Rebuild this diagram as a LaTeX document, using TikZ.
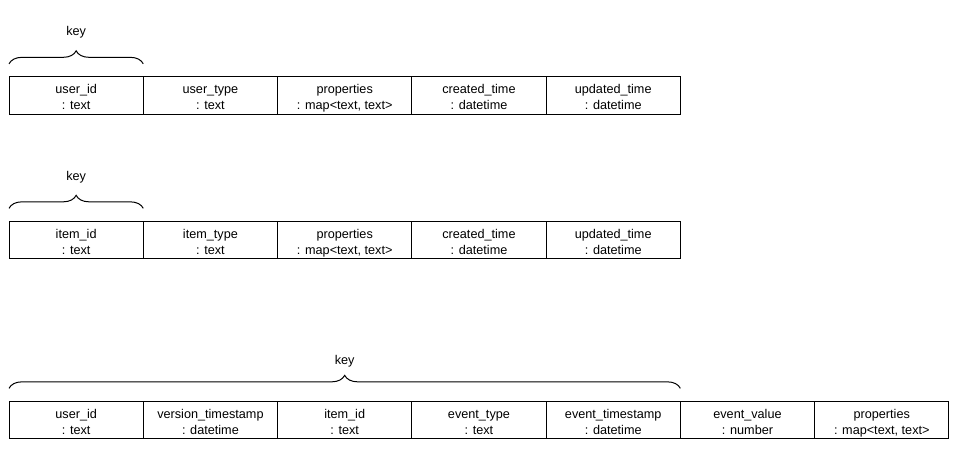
\documentclass[tikz,border=0pt]{standalone}
\usepackage{fontspec}
\setmainfont{Liberation Sans}
\usetikzlibrary{positioning,decorations.pathreplacing}
\tikzset{field/.style={draw=black,line width=0.75pt,outer sep=0pt,inner sep=0pt,
  minimum width=100.7pt,minimum height=28pt,align=center,
  font=\fontsize{9.5}{12}\selectfont},
  keybrace/.style={decorate,decoration={brace,amplitude=9.75pt},line width=0.75pt,draw=black},
  keylabel/.style={font=\fontsize{9.5}{12}\selectfont,inner sep=0pt,anchor=base}}
\newcommand{\fieldtext}[2]{\rule{0pt}{12pt}#1\\#2\rule[-2.7pt]{0pt}{2.7pt}}
\begin{document}
\begin{tikzpicture}[x=0.75pt,y=-0.75pt]
\useasboundingbox (0,0) rectangle (959,464);
% users
\node[field] (uid) at (76.15,95.5) {\fieldtext{user\_id}{: text}};
\node[field,right=0pt of uid] (utype) {\fieldtext{user\_type}{: text}};
\node[field,right=0pt of utype] (uprops) {\fieldtext{properties}{: map<text, text>}};
\node[field,right=0pt of uprops] (ucreated) {\fieldtext{created\_time}{: datetime}};
\node[field,right=0pt of ucreated] (uupdated) {\fieldtext{updated\_time}{: datetime}};
\coordinate (ukeyl) at ([yshift=9.75pt]uid.north west);
\coordinate (ukeyr) at ([yshift=9.75pt]uid.north east);
\draw[keybrace] (ukeyl) -- (ukeyr);
\node[keylabel] (ukey) at ([yshift=30.75pt]uid.north) {key};
% items
\node[field] (iid) at (76.15,240) {\fieldtext{item\_id}{: text}};
\node[field,right=0pt of iid] (itype) {\fieldtext{item\_type}{: text}};
\node[field,right=0pt of itype] (iprops) {\fieldtext{properties}{: map<text, text>}};
\node[field,right=0pt of iprops] (icreated) {\fieldtext{created\_time}{: datetime}};
\node[field,right=0pt of icreated] (iupdated) {\fieldtext{updated\_time}{: datetime}};
\coordinate (ikeyl) at ([yshift=9.75pt]iid.north west);
\coordinate (ikeyr) at ([yshift=9.75pt]iid.north east);
\draw[keybrace] (ikeyl) -- (ikeyr);
\node[keylabel] (ikey) at ([yshift=30.75pt]iid.north) {key};
% events
\node[field] (euid) at (76.15,420) {\fieldtext{user\_id}{: text}};
\node[field,right=0pt of euid] (eversion) {\fieldtext{version\_timestamp}{: datetime}};
\node[field,right=0pt of eversion] (eiid) {\fieldtext{item\_id}{: text}};
\node[field,right=0pt of eiid] (etype) {\fieldtext{event\_type}{: text}};
\node[field,right=0pt of etype] (etime) {\fieldtext{event\_timestamp}{: datetime}};
\node[field,right=0pt of etime] (evalue) {\fieldtext{event\_value}{: number}};
\node[field,right=0pt of evalue] (eprops) {\fieldtext{properties}{: map<text, text>}};
\coordinate (ekeyl) at ([yshift=9.75pt]euid.north west);
\coordinate (ekeyr) at ([yshift=9.75pt]etime.north east);
\draw[keybrace] (ekeyl) -- (ekeyr);
\node[keylabel] (ekey) at ([yshift=28pt]eiid.north) {key};
\end{tikzpicture}
\end{document}
